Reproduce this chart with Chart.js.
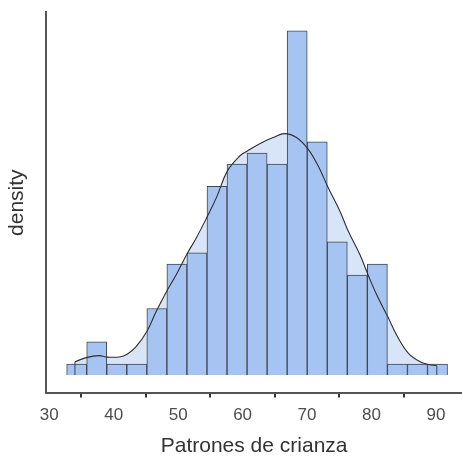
<!DOCTYPE html>
<html>
<head>
<meta charset="utf-8">
<script src="https://cdn.jsdelivr.net/npm/chart.js@4.4.1/dist/chart.umd.min.js"></script>
<style>
  html, body { margin: 0; padding: 0; background: #fff; }
  #wrap { width: 462px; height: 460px; }
</style>
</head>
<body>
<div id="wrap"><canvas id="chart"></canvas></div>
<script>
// Histogram bins (centre of each bin) and counts
const binCenters = [34.26, 37.37, 40.48, 43.59, 46.70, 49.81, 52.92, 56.03, 59.14, 62.25,
                    65.36, 68.47, 71.58, 74.69, 77.80, 80.91, 84.02, 87.13, 90.24];
const binCounts = [1, 3, 1, 1, 6, 10, 11, 17, 19, 20, 19, 31, 21, 12, 9, 10, 1, 1, 1];

// Density curve, scaled to the count axis
const densityX = [33.99, 35.75, 37.78, 38.81, 40.89, 42.08, 43.48, 45.14, 46.59, 48.20,
                  49.70, 51.31, 52.81, 54.42, 55.92, 57.63, 59.55, 60.74, 62.66, 64.73,
                  66.55, 68.36, 70.18, 71.73, 73.29, 75.10, 76.40, 78.21, 79.46, 80.80,
                  82.51, 84.17, 85.73, 87.54, 88.84, 90.13];
const densityY = [1.20, 1.57, 1.75, 1.63, 1.63, 1.87, 2.56, 3.92, 5.72, 7.53,
                  9.04, 10.84, 12.35, 14.16, 15.96, 18.37, 19.73, 20.18, 20.84, 21.39,
                  21.75, 21.39, 20.33, 18.83, 16.87, 14.76, 12.95, 10.84, 9.04, 7.23,
                  5.27, 3.31, 1.96, 1.20, 0.96, 0.84];

const xTicks = [30, 40, 50, 60, 70, 80, 90];

const bars = binCenters.map((x, i) => ({ x: x, y: binCounts[i] }));
const curve = densityX.map((x, i) => ({ x: x, y: densityY[i] }));
const first = curve[0];
const last = curve[curve.length - 1];

new Chart(document.getElementById('chart'), {
    type: 'bar',
    data: {
        datasets: [
            {
                type: 'line',
                data: curve,
                order: 3,
                borderWidth: 0,
                pointRadius: 0,
                tension: 0.4,
                fill: 'origin',
                backgroundColor: '#d8e5f8'
            },
            {
                type: 'bar',
                data: bars,
                order: 2,
                backgroundColor: '#a6c4f1',
                borderColor: '#3f4650',
                borderWidth: 1,
                barPercentage: 1,
                categoryPercentage: 1,
                grouped: false
            },
            {
                type: 'line',
                data: curve,
                order: 1,
                borderColor: '#2e2e2e',
                borderWidth: 1.1,
                pointRadius: 0,
                tension: 0.4,
                fill: false
            },
            {
                type: 'line',
                data: [{ x: first.x, y: 0 }, first],
                order: 1,
                borderColor: '#3f4650',
                borderWidth: 1,
                pointRadius: 0,
                fill: false
            },
            {
                type: 'line',
                data: [{ x: last.x, y: 0 }, last],
                order: 1,
                borderColor: '#3f4650',
                borderWidth: 1,
                pointRadius: 0,
                fill: false
            }
        ]
    },
    options: {
        responsive: true,
        maintainAspectRatio: false,
        animation: false,
        layout: { padding: { top: 12, right: 0, bottom: 0, left: 0 } },
        plugins: {
            legend: { display: false },
            tooltip: { enabled: false }
        },
        scales: {
            x: {
                type: 'linear',
                min: 29.53,
                max: 94.04,
                offset: false,
                afterBuildTicks: axis => { axis.ticks = xTicks.map(v => ({ value: v })); },
                grid: {
                    display: true,
                    drawOnChartArea: false,
                    drawTicks: true,
                    tickLength: 4,
                    color: '#333',
                    lineWidth: 2
                },
                border: { display: true, color: '#555', width: 2 },
                ticks: {
                    color: '#4d4d4d',
                    padding: 8,
                    maxRotation: 0,
                    font: { family: 'Liberation Sans, Arial, sans-serif', size: 17 }
                },
                title: {
                    display: true,
                    text: 'Patrones de crianza',
                    color: '#333',
                    padding: { top: 0, bottom: 1 },
                    font: { family: 'Liberation Sans, Arial, sans-serif', size: 21 }
                }
            },
            y: {
                min: -1.65,
                max: 32.7,
                grid: { display: false, drawTicks: false },
                border: { display: true, color: '#555', width: 2 },
                ticks: { display: false },
                title: {
                    display: true,
                    text: 'density',
                    color: '#333',
                    padding: { top: 5, bottom: 16 },
                    font: { family: 'Liberation Sans, Arial, sans-serif', size: 21 }
                }
            }
        }
    }
});
</script>
</body>
</html>
